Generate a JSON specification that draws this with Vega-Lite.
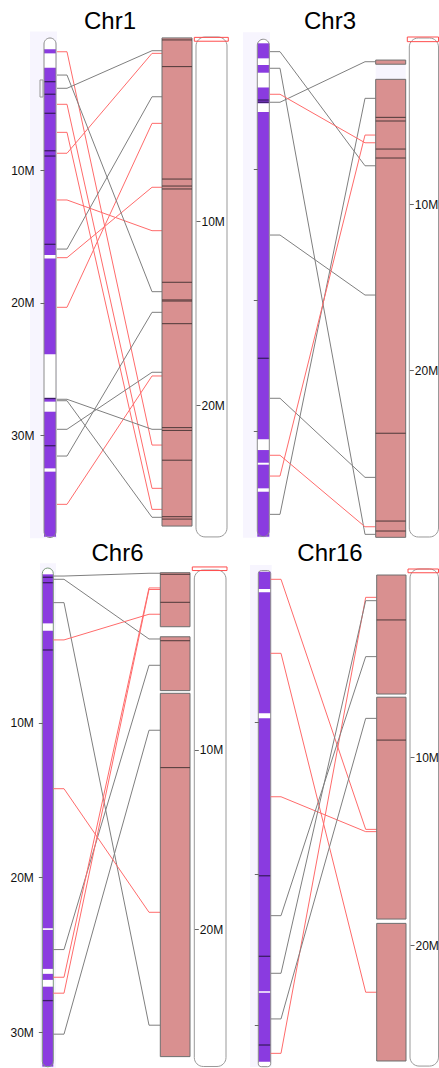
{
"$schema": "https://vega.github.io/schema/vega-lite/v6.json",
"background": "white",
"padding": 0,
"config": {"view": {"stroke": null}, "title": {"fontSize": 24, "font": "Liberation Sans", "fontWeight": "normal", "color": "#000000", "frame": "group", "baseline": "bottom", "anchor": "middle"}, "axis": {"domain": false, "grid": false, "ticks": true, "tickSize": 4, "tickColor": "#666666", "labelFontSize": 12, "labelFont": "Liberation Sans", "labelColor": "#111111", "title": null}},
"datasets": {
"bg1": [{"s": -0.5, "e": 37.8}],
"o1": [{"s": 0, "e": 37.75}],
"seg1": [{"s": 0.85, "e": 1.16}, {"s": 2.24, "e": 16.4}, {"s": 16.66, "e": 23.9}, {"s": 27.2, "e": 27.48}, {"s": 28.24, "e": 32.52}, {"s": 32.77, "e": 37.69}],
"band1": [{"p": 3.3}, {"p": 4.25}, {"p": 5.69}, {"p": 8.52}, {"p": 8.92}, {"p": 15.59}, {"p": 27.24}, {"p": 30.81}],
"mk1": [{"s": 3.17, "e": 4.46}],
"link1": [{"a": 1.04, "b": 30.76, "s": "-"}, {"a": 5.01, "b": 34.03, "s": "-"}, {"a": 7.13, "b": 35.62, "s": "-"}, {"a": 8.71, "b": 1.16, "s": "-"}, {"a": 12.24, "b": 14.56, "s": "-"}, {"a": 16.6, "b": 11.28, "s": "-"}, {"a": 20.35, "b": 6.45, "s": "-"}, {"a": 35.24, "b": 25.54, "s": "-"}, {"a": 2.8, "b": 19.17, "s": "+"}, {"a": 3.8, "b": 0.96, "s": "+"}, {"a": 15.95, "b": 4.44, "s": "+"}, {"a": 27.3, "b": 29.57, "s": "+"}, {"a": 27.41, "b": 36.22, "s": "+"}, {"a": 29.57, "b": 25.26, "s": "+"}, {"a": 31.59, "b": 20.73, "s": "+"}],
"so1": [{"s": 0, "e": 27.17}],
"sc1": [{"s": 0.05, "e": 26.58}],
"sl1": [{"p": 0.16}, {"p": 1.61}, {"p": 7.72}, {"p": 8.1}, {"p": 8.26}, {"p": 13.33}, {"p": 14.29}, {"p": 14.35}, {"p": 15.58}, {"p": 21.23}, {"p": 21.38}, {"p": 23.0}, {"p": 26.07}, {"p": 26.2}],
"tr1": [{"s": 0.02, "e": 0.23}],

"bg3": [{"s": -0.48, "e": 38.2}],
"o3": [{"s": 0.05, "e": 38.1}],
"seg3": [{"s": 0.36, "e": 1.51}, {"s": 2.02, "e": 2.61}, {"s": 3.74, "e": 4.95}, {"s": 5.62, "e": 30.66}, {"s": 31.48, "e": 32.45}, {"s": 32.6, "e": 34.41}, {"s": 34.67, "e": 38.11}],
"band3": [{"p": 4.7}, {"p": 4.87}, {"p": 24.46}],
"link3": [{"a": 1.0, "b": 9.73, "s": "+"}, {"a": 2.27, "b": 37.93, "s": "+"}, {"a": 4.87, "b": 1.77, "s": "+"}, {"a": 15.03, "b": 19.62, "s": "+"}, {"a": 27.52, "b": 33.57, "s": "+"}, {"a": 36.4, "b": 4.57, "s": "+"}, {"a": 4.26, "b": 7.97, "s": "-"}, {"a": 31.88, "b": 37.35, "s": "-"}, {"a": 33.47, "b": 7.38, "s": "-"}],
"so3": [{"s": 0, "e": 30.06}],
"gap3": [{"s": 1.58, "e": 2.49}],
"sc3": [{"s": 1.33, "e": 1.58}, {"s": 2.49, "e": 30.08}],
"sl3": [{"p": 4.78}, {"p": 5.0}, {"p": 6.69}, {"p": 7.23}, {"p": 23.81}, {"p": 29.1}, {"p": 29.7}],
"tr3": [{"s": -0.06, "e": 0.22}],

"bg6": [{"s": -0.3, "e": 32.5}],
"o6": [{"s": 0, "e": 32.25}],
"seg6": [{"s": 0.41, "e": 3.58}, {"s": 4.05, "e": 23.29}, {"s": 23.4, "e": 25.92}, {"s": 26.24, "e": 26.63}, {"s": 27.07, "e": 32.24}],
"band6": [{"p": 0.6}, {"p": 0.95}, {"p": 5.3}, {"p": 27.97}],
"link6": [{"a": 0.52, "b": 0.34, "s": "+"}, {"a": 0.73, "b": 4.59, "s": "+"}, {"a": 2.24, "b": 29.56, "s": "+"}, {"a": 24.67, "b": 6.29, "s": "+"}, {"a": 30.14, "b": 10.49, "s": "+"}, {"a": 4.65, "b": 2.99, "s": "-"}, {"a": 14.27, "b": 22.26, "s": "-"}, {"a": 26.46, "b": 1.29, "s": "-"}, {"a": 27.49, "b": 1.39, "s": "-"}],
"so6": [{"s": 0, "e": 27.66}],
"sc6": [{"s": 0.15, "e": 3.16}, {"s": 3.72, "e": 6.72}, {"s": 6.87, "e": 27.11}],
"sl6": [{"p": 0.24}, {"p": 1.8}, {"p": 3.94}, {"p": 11.01}],
"tr6": [{"s": -0.17, "e": 0.03}],

"bg16": [{"s": -0.35, "e": 32.75}],
"o16": [{"s": 0.02, "e": 32.73}],
"seg16": [{"s": 0.09, "e": 1.23}, {"s": 1.45, "e": 9.43}, {"s": 9.76, "e": 27.76}, {"s": 27.85, "e": 32.4}],
"band16": [{"p": 20.14}, {"p": 25.45}, {"p": 31.3}],
"link16": [{"a": 0.59, "b": 17.08, "s": "-"}, {"a": 14.93, "b": 17.23, "s": "-"}, {"a": 5.47, "b": 27.82, "s": "-"}, {"a": 31.85, "b": 1.78, "s": "-"}, {"a": 22.77, "b": 5.69, "s": "+"}, {"a": 26.57, "b": 2.0, "s": "+"}, {"a": 29.58, "b": 9.76, "s": "+"}],
"so16": [{"s": 0.0, "e": 26.44}],
"sc16": [{"s": 0.32, "e": 6.65}, {"s": 6.82, "e": 18.62}, {"s": 18.85, "e": 26.17}],
"sl16": [{"p": 2.71}, {"p": 9.1}],
"tr16": [{"s": 0.0, "e": 0.2}]
},
"vconcat": [
{"hconcat": [
{
"width": 220, "height": 540,
"title": {"text": "Chr1", "offset": -34.3, "dx": 0},
"layer": [
{"layer": [
{"data": {"name": "bg1"}, "mark": {"type": "rect", "color": "#f7f5fe"}, "encoding": {"x": {"datum": 30, "type": "quantitative", "scale": {"domain": [0, 220], "range": [0, 220], "nice": false, "zero": false}, "axis": null}, "x2": {"datum": 57}, "y": {"field": "s", "type": "quantitative", "scale": {"domain": [0, 30], "range": [38, 435], "nice": false, "zero": false}, "axis": {"orient": "left", "offset": -44, "values": [10, 20, 30], "labelExpr": "datum.value + 'M'", "labelPadding": 6, "zindex": 1}}, "y2": {"field": "e"}}},
{"data": {"name": "o1"}, "mark": {"type": "rect", "fill": "#ffffff", "cornerRadius": 6}, "encoding": {"x": {"datum": 44, "type": "quantitative"}, "x2": {"datum": 56}, "y": {"field": "s", "type": "quantitative"}, "y2": {"field": "e"}}},
{"data": {"name": "seg1"}, "mark": {"type": "rect", "color": "#8a3be0"}, "encoding": {"x": {"datum": 44, "type": "quantitative"}, "x2": {"datum": 56}, "y": {"field": "s", "type": "quantitative"}, "y2": {"field": "e"}}},
{"data": {"name": "band1"}, "mark": {"type": "rule", "color": "#3b1d66", "strokeWidth": 1.3}, "encoding": {"x": {"datum": 44, "type": "quantitative"}, "x2": {"datum": 56}, "y": {"field": "p", "type": "quantitative"}}},
{"data": {"name": "o1"}, "mark": {"type": "rect", "filled": false, "stroke": "#8c8c8c", "strokeWidth": 1, "cornerRadius": 6}, "encoding": {"x": {"datum": 44, "type": "quantitative"}, "x2": {"datum": 56}, "y": {"field": "s", "type": "quantitative"}, "y2": {"field": "e"}}},
{"data": {"name": "mk1"}, "mark": {"type": "rect", "filled": false, "stroke": "#999999", "strokeWidth": 1}, "encoding": {"x": {"datum": 40, "type": "quantitative"}, "x2": {"datum": 43}, "y": {"field": "s", "type": "quantitative"}, "y2": {"field": "e"}}},
{"data": {"name": "link1"}, "mark": {"type": "rule", "strokeWidth": 1}, "encoding": {"x": {"datum": 57, "type": "quantitative"}, "x2": {"datum": 67}, "y": {"field": "a", "type": "quantitative"}, "color": {"field": "s", "type": "nominal", "scale": {"domain": ["+", "-"], "range": ["#7f7f7f", "#ff6b6b"]}, "legend": null}}},
{"data": {"name": "link1"}, "mark": {"type": "rule", "strokeWidth": 1}, "encoding": {"x": {"datum": 67, "type": "quantitative"}, "x2": {"datum": 152}, "y": {"field": "a", "type": "quantitative"}, "y2": {"field": "b"}, "color": {"field": "s", "type": "nominal", "scale": {"domain": ["+", "-"], "range": ["#7f7f7f", "#ff6b6b"]}, "legend": null}}},
{"data": {"name": "link1"}, "mark": {"type": "rule", "strokeWidth": 1}, "encoding": {"x": {"datum": 152, "type": "quantitative"}, "x2": {"datum": 162}, "y": {"field": "b", "type": "quantitative"}, "color": {"field": "s", "type": "nominal", "scale": {"domain": ["+", "-"], "range": ["#7f7f7f", "#ff6b6b"]}, "legend": null}}}
]},
{"layer": [
{"data": {"name": "so1"}, "mark": {"type": "rect", "fill": "#ffffff", "stroke": "#999999", "strokeWidth": 1, "cornerRadius": 9}, "encoding": {"x": {"datum": 196, "type": "quantitative"}, "x2": {"datum": 227}, "y": {"field": "s", "type": "quantitative", "scale": {"domain": [0, 20], "range": [37, 405], "nice": false, "zero": false}, "axis": {"orient": "right", "offset": -24, "values": [10, 20], "labelExpr": "datum.value + 'M'", "labelPadding": 1, "zindex": 1}}, "y2": {"field": "e"}}},
{"data": {"name": "sc1"}, "mark": {"type": "rect", "fill": "#d99090", "stroke": "#6e6e6e", "strokeWidth": 1}, "encoding": {"x": {"datum": 162, "type": "quantitative"}, "x2": {"datum": 192}, "y": {"field": "s", "type": "quantitative"}, "y2": {"field": "e"}}},
{"data": {"name": "sl1"}, "mark": {"type": "rule", "color": "#4d3838", "strokeWidth": 1}, "encoding": {"x": {"datum": 162, "type": "quantitative"}, "x2": {"datum": 192}, "y": {"field": "p", "type": "quantitative"}}},
{"data": {"name": "tr1"}, "mark": {"type": "rect", "filled": false, "stroke": "#ff4d4d", "strokeWidth": 1}, "encoding": {"x": {"datum": 194.3, "type": "quantitative"}, "x2": {"datum": 228.3}, "y": {"field": "s", "type": "quantitative"}, "y2": {"field": "e"}}}
]}
],
"resolve": {"scale": {"y": "independent"}, "axis": {"y": "independent"}}
},
{
"width": 219, "height": 540,
"title": {"text": "Chr3", "offset": -34.3, "dx": 0.5},
"layer": [
{"layer": [
{"data": {"name": "bg3"}, "mark": {"type": "rect", "color": "#f7f5fe"}, "encoding": {"x": {"datum": 23, "type": "quantitative", "scale": {"domain": [0, 219], "range": [0, 219], "nice": false, "zero": false}, "axis": null}, "x2": {"datum": 50}, "y": {"field": "s", "type": "quantitative", "scale": {"domain": [0, 30], "range": [38.6, 430.7], "nice": false, "zero": false}, "axis": {"orient": "left", "offset": -37.3, "values": [10, 20, 30], "labels": false, "zindex": 1}}, "y2": {"field": "e"}}},
{"data": {"name": "o3"}, "mark": {"type": "rect", "fill": "#ffffff", "cornerRadius": 6}, "encoding": {"x": {"datum": 37.3, "type": "quantitative"}, "x2": {"datum": 49.3}, "y": {"field": "s", "type": "quantitative"}, "y2": {"field": "e"}}},
{"data": {"name": "seg3"}, "mark": {"type": "rect", "color": "#8a3be0"}, "encoding": {"x": {"datum": 37.3, "type": "quantitative"}, "x2": {"datum": 49.3}, "y": {"field": "s", "type": "quantitative"}, "y2": {"field": "e"}}},
{"data": {"name": "band3"}, "mark": {"type": "rule", "color": "#3b1d66", "strokeWidth": 1.3}, "encoding": {"x": {"datum": 37.3, "type": "quantitative"}, "x2": {"datum": 49.3}, "y": {"field": "p", "type": "quantitative"}}},
{"data": {"name": "o3"}, "mark": {"type": "rect", "filled": false, "stroke": "#8c8c8c", "strokeWidth": 1, "cornerRadius": 6}, "encoding": {"x": {"datum": 37.3, "type": "quantitative"}, "x2": {"datum": 49.3}, "y": {"field": "s", "type": "quantitative"}, "y2": {"field": "e"}}},
{"data": {"name": "link3"}, "mark": {"type": "rule", "strokeWidth": 1}, "encoding": {"x": {"datum": 50, "type": "quantitative"}, "x2": {"datum": 60}, "y": {"field": "a", "type": "quantitative"}, "color": {"field": "s", "type": "nominal", "scale": {"domain": ["+", "-"], "range": ["#7f7f7f", "#ff6b6b"]}, "legend": null}}},
{"data": {"name": "link3"}, "mark": {"type": "rule", "strokeWidth": 1}, "encoding": {"x": {"datum": 60, "type": "quantitative"}, "x2": {"datum": 145}, "y": {"field": "a", "type": "quantitative"}, "y2": {"field": "b"}, "color": {"field": "s", "type": "nominal", "scale": {"domain": ["+", "-"], "range": ["#7f7f7f", "#ff6b6b"]}, "legend": null}}},
{"data": {"name": "link3"}, "mark": {"type": "rule", "strokeWidth": 1}, "encoding": {"x": {"datum": 145, "type": "quantitative"}, "x2": {"datum": 155.7}, "y": {"field": "b", "type": "quantitative"}, "color": {"field": "s", "type": "nominal", "scale": {"domain": ["+", "-"], "range": ["#7f7f7f", "#ff6b6b"]}, "legend": null}}}
]},
{"layer": [
{"data": {"name": "so3"}, "mark": {"type": "rect", "fill": "#ffffff", "stroke": "#999999", "strokeWidth": 1, "cornerRadius": 9}, "encoding": {"x": {"datum": 189.3, "type": "quantitative"}, "x2": {"datum": 218.5}, "y": {"field": "s", "type": "quantitative", "scale": {"domain": [0, 20], "range": [38, 370], "nice": false, "zero": false}, "axis": {"orient": "right", "offset": -29.7, "values": [10, 20], "labelExpr": "datum.value + 'M'", "labelPadding": 1, "zindex": 1}}, "y2": {"field": "e"}}},
{"data": {"name": "gap3"}, "mark": {"type": "rect", "color": "#f7f5fe"}, "encoding": {"x": {"datum": 155.7, "type": "quantitative"}, "x2": {"datum": 185.7}, "y": {"field": "s", "type": "quantitative"}, "y2": {"field": "e"}}},
{"data": {"name": "sc3"}, "mark": {"type": "rect", "fill": "#d99090", "stroke": "#6e6e6e", "strokeWidth": 1}, "encoding": {"x": {"datum": 155.7, "type": "quantitative"}, "x2": {"datum": 185.7}, "y": {"field": "s", "type": "quantitative"}, "y2": {"field": "e"}}},
{"data": {"name": "sl3"}, "mark": {"type": "rule", "color": "#4d3838", "strokeWidth": 1}, "encoding": {"x": {"datum": 155.7, "type": "quantitative"}, "x2": {"datum": 185.7}, "y": {"field": "p", "type": "quantitative"}}},
{"data": {"name": "tr3"}, "mark": {"type": "rect", "filled": false, "stroke": "#ff4d4d", "strokeWidth": 1}, "encoding": {"x": {"datum": 187.3, "type": "quantitative"}, "x2": {"datum": 218.5}, "y": {"field": "s", "type": "quantitative"}, "y2": {"field": "e"}}}
]}
],
"resolve": {"scale": {"y": "independent"}, "axis": {"y": "independent"}}
}
], "spacing": 0, "bounds": "flush"},
{"hconcat": [
{
"width": 220, "height": 528,
"title": {"text": "Chr6", "offset": -25.7, "dx": 7.5},
"layer": [
{"layer": [
{"data": {"name": "bg6"}, "mark": {"type": "rect", "color": "#f7f5fe"}, "encoding": {"x": {"datum": 40, "type": "quantitative", "scale": {"domain": [0, 220], "range": [0, 220], "nice": false, "zero": false}, "axis": null}, "x2": {"datum": 56}, "y": {"field": "s", "type": "quantitative", "scale": {"domain": [0, 30], "range": [28, 492], "nice": false, "zero": false}, "axis": {"orient": "left", "offset": -42.3, "values": [10, 20, 30], "labelExpr": "datum.value + 'M'", "labelPadding": 5, "zindex": 1}}, "y2": {"field": "e"}}},
{"data": {"name": "o6"}, "mark": {"type": "rect", "fill": "#ffffff", "cornerRadius": 5.5}, "encoding": {"x": {"datum": 42.3, "type": "quantitative"}, "x2": {"datum": 53.3}, "y": {"field": "s", "type": "quantitative"}, "y2": {"field": "e"}}},
{"data": {"name": "seg6"}, "mark": {"type": "rect", "color": "#8a3be0"}, "encoding": {"x": {"datum": 42.3, "type": "quantitative"}, "x2": {"datum": 53.3}, "y": {"field": "s", "type": "quantitative"}, "y2": {"field": "e"}}},
{"data": {"name": "band6"}, "mark": {"type": "rule", "color": "#3b1d66", "strokeWidth": 1.3}, "encoding": {"x": {"datum": 42.3, "type": "quantitative"}, "x2": {"datum": 53.3}, "y": {"field": "p", "type": "quantitative"}}},
{"data": {"name": "o6"}, "mark": {"type": "rect", "filled": false, "stroke": "#7f9a7f", "strokeWidth": 1, "cornerRadius": 5.5}, "encoding": {"x": {"datum": 42.3, "type": "quantitative"}, "x2": {"datum": 53.3}, "y": {"field": "s", "type": "quantitative"}, "y2": {"field": "e"}}},
{"data": {"name": "link6"}, "mark": {"type": "rule", "strokeWidth": 1}, "encoding": {"x": {"datum": 53.3, "type": "quantitative"}, "x2": {"datum": 64}, "y": {"field": "a", "type": "quantitative"}, "color": {"field": "s", "type": "nominal", "scale": {"domain": ["+", "-"], "range": ["#7f7f7f", "#ff6b6b"]}, "legend": null}}},
{"data": {"name": "link6"}, "mark": {"type": "rule", "strokeWidth": 1}, "encoding": {"x": {"datum": 64, "type": "quantitative"}, "x2": {"datum": 149}, "y": {"field": "a", "type": "quantitative"}, "y2": {"field": "b"}, "color": {"field": "s", "type": "nominal", "scale": {"domain": ["+", "-"], "range": ["#7f7f7f", "#ff6b6b"]}, "legend": null}}},
{"data": {"name": "link6"}, "mark": {"type": "rule", "strokeWidth": 1}, "encoding": {"x": {"datum": 149, "type": "quantitative"}, "x2": {"datum": 160.3}, "y": {"field": "b", "type": "quantitative"}, "color": {"field": "s", "type": "nominal", "scale": {"domain": ["+", "-"], "range": ["#7f7f7f", "#ff6b6b"]}, "legend": null}}}
]},
{"layer": [
{"data": {"name": "so6"}, "mark": {"type": "rect", "fill": "#ffffff", "stroke": "#999999", "strokeWidth": 1, "cornerRadius": 9}, "encoding": {"x": {"datum": 194.3, "type": "quantitative"}, "x2": {"datum": 226}, "y": {"field": "s", "type": "quantitative", "scale": {"domain": [0, 20], "range": [30, 389], "nice": false, "zero": false}, "axis": {"orient": "right", "offset": -25.7, "values": [10, 20], "labelExpr": "datum.value + 'M'", "labelPadding": 1, "zindex": 1}}, "y2": {"field": "e"}}},
{"data": {"name": "sc6"}, "mark": {"type": "rect", "fill": "#d99090", "stroke": "#6e6e6e", "strokeWidth": 1}, "encoding": {"x": {"datum": 160.3, "type": "quantitative"}, "x2": {"datum": 190}, "y": {"field": "s", "type": "quantitative"}, "y2": {"field": "e"}}},
{"data": {"name": "sl6"}, "mark": {"type": "rule", "color": "#4d3838", "strokeWidth": 1}, "encoding": {"x": {"datum": 160.3, "type": "quantitative"}, "x2": {"datum": 190}, "y": {"field": "p", "type": "quantitative"}}},
{"data": {"name": "tr6"}, "mark": {"type": "rect", "filled": false, "stroke": "#ff4d4d", "strokeWidth": 1}, "encoding": {"x": {"datum": 192.3, "type": "quantitative"}, "x2": {"datum": 227}, "y": {"field": "s", "type": "quantitative"}, "y2": {"field": "e"}}}
]}
],
"resolve": {"scale": {"y": "independent"}, "axis": {"y": "independent"}}
},
{
"width": 219, "height": 528,
"title": {"text": "Chr16", "offset": -25.7, "dx": 0.5},
"layer": [
{"layer": [
{"data": {"name": "bg16"}, "mark": {"type": "rect", "color": "#f7f5fe"}, "encoding": {"x": {"datum": 30, "type": "quantitative", "scale": {"domain": [0, 219], "range": [0, 219], "nice": false, "zero": false}, "axis": null}, "x2": {"datum": 51.7}, "y": {"field": "s", "type": "quantitative", "scale": {"domain": [0, 30], "range": [30.35, 485.3], "nice": false, "zero": false}, "axis": {"orient": "left", "offset": -38.3, "values": [10, 20, 30], "labels": false, "zindex": 1}}, "y2": {"field": "e"}}},
{"data": {"name": "o16"}, "mark": {"type": "rect", "fill": "#ffffff", "cornerRadius": 3}, "encoding": {"x": {"datum": 38.3, "type": "quantitative"}, "x2": {"datum": 50.7}, "y": {"field": "s", "type": "quantitative"}, "y2": {"field": "e"}}},
{"data": {"name": "seg16"}, "mark": {"type": "rect", "color": "#8a3be0"}, "encoding": {"x": {"datum": 38.3, "type": "quantitative"}, "x2": {"datum": 50.7}, "y": {"field": "s", "type": "quantitative"}, "y2": {"field": "e"}}},
{"data": {"name": "band16"}, "mark": {"type": "rule", "color": "#3b1d66", "strokeWidth": 1.3}, "encoding": {"x": {"datum": 38.3, "type": "quantitative"}, "x2": {"datum": 50.7}, "y": {"field": "p", "type": "quantitative"}}},
{"data": {"name": "o16"}, "mark": {"type": "rect", "filled": false, "stroke": "#8c8c8c", "strokeWidth": 1, "cornerRadius": 3}, "encoding": {"x": {"datum": 38.3, "type": "quantitative"}, "x2": {"datum": 50.7}, "y": {"field": "s", "type": "quantitative"}, "y2": {"field": "e"}}},
{"data": {"name": "link16"}, "mark": {"type": "rule", "strokeWidth": 1}, "encoding": {"x": {"datum": 50.7, "type": "quantitative"}, "x2": {"datum": 61}, "y": {"field": "a", "type": "quantitative"}, "color": {"field": "s", "type": "nominal", "scale": {"domain": ["+", "-"], "range": ["#7f7f7f", "#ff6b6b"]}, "legend": null}}},
{"data": {"name": "link16"}, "mark": {"type": "rule", "strokeWidth": 1}, "encoding": {"x": {"datum": 61, "type": "quantitative"}, "x2": {"datum": 145.7}, "y": {"field": "a", "type": "quantitative"}, "y2": {"field": "b"}, "color": {"field": "s", "type": "nominal", "scale": {"domain": ["+", "-"], "range": ["#7f7f7f", "#ff6b6b"]}, "legend": null}}},
{"data": {"name": "link16"}, "mark": {"type": "rule", "strokeWidth": 1}, "encoding": {"x": {"datum": 145.7, "type": "quantitative"}, "x2": {"datum": 156.7}, "y": {"field": "b", "type": "quantitative"}, "color": {"field": "s", "type": "nominal", "scale": {"domain": ["+", "-"], "range": ["#7f7f7f", "#ff6b6b"]}, "legend": null}}}
]},
{"layer": [
{"data": {"name": "so16"}, "mark": {"type": "rect", "fill": "#ffffff", "stroke": "#999999", "strokeWidth": 1, "cornerRadius": 9}, "encoding": {"x": {"datum": 190, "type": "quantitative"}, "x2": {"datum": 218.5}, "y": {"field": "s", "type": "quantitative", "scale": {"domain": [0, 20], "range": [29, 405], "nice": false, "zero": false}, "axis": {"orient": "right", "offset": -29, "values": [10, 20], "labelExpr": "datum.value + 'M'", "labelPadding": 1, "zindex": 1}}, "y2": {"field": "e"}}},
{"data": {"name": "sc16"}, "mark": {"type": "rect", "fill": "#d99090", "stroke": "#6e6e6e", "strokeWidth": 1}, "encoding": {"x": {"datum": 156.7, "type": "quantitative"}, "x2": {"datum": 186}, "y": {"field": "s", "type": "quantitative"}, "y2": {"field": "e"}}},
{"data": {"name": "sl16"}, "mark": {"type": "rule", "color": "#4d3838", "strokeWidth": 1}, "encoding": {"x": {"datum": 156.7, "type": "quantitative"}, "x2": {"datum": 186}, "y": {"field": "p", "type": "quantitative"}}},
{"data": {"name": "tr16"}, "mark": {"type": "rect", "filled": false, "stroke": "#ff4d4d", "strokeWidth": 1}, "encoding": {"x": {"datum": 188, "type": "quantitative"}, "x2": {"datum": 218.5}, "y": {"field": "s", "type": "quantitative"}, "y2": {"field": "e"}}}
]}
],
"resolve": {"scale": {"y": "independent"}, "axis": {"y": "independent"}}
}
], "spacing": 0, "bounds": "flush"}
],
"spacing": 0
}
